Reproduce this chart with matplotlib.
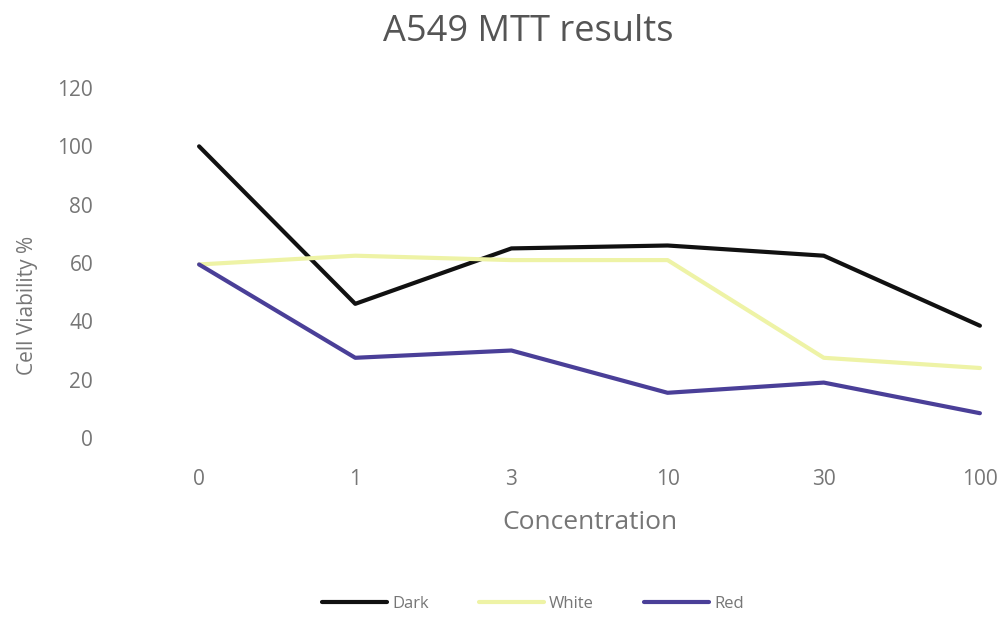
import numpy as np
import matplotlib
matplotlib.use("Agg")
import matplotlib.pyplot as plt

# --- data ---
concentrations = ["0", "1", "3", "10", "30", "100"]
dark = [100, 46, 65, 66, 62.5, 38.5]
white = [59.5, 62.5, 61, 61, 27.5, 24]
red = [59.5, 27.5, 30, 15.5, 19, 8.5]

series_names = ["Dark", "White", "Red"]
series_colors = ["#111111", "#eef3a6", "#4a3f98"]

TEXT = "#767676"
plt.rcParams['font.family'] = ['Open Sans', 'DejaVu Sans']

fig = plt.figure(figsize=(10.08, 6.23), dpi=100)
ax = fig.add_axes([121 / 1008, 1 - 438 / 623, (1058 - 121) / 1008, (438 - 88) / 623])

x = np.arange(len(concentrations))
for vals, name, col in zip([dark, white, red], series_names, series_colors):
    ax.plot(x, vals, color=col, lw=3, label=name, solid_capstyle="round")

ax.set_xlim(-0.5, len(concentrations) - 0.5)
ax.set_ylim(0, 120)
ax.set_yticks(range(0, 121, 20))
ax.set_xticks(x)
ax.set_xticklabels(concentrations)
for s in ax.spines.values():
    s.set_visible(False)
ax.tick_params(length=0, colors=TEXT, labelsize=15)
ax.tick_params(axis="y", pad=20)
ax.tick_params(axis="x", pad=22)

ax.set_xlabel("Concentration", fontsize=19, color=TEXT, labelpad=15)
fig.text(28 / 1008, 1 - 305 / 623, "Cell Viability %", rotation=90, fontsize=15,
         color=TEXT, ha="center", va="center")
fig.text(528 / 1008, 1 - 32 / 623, "A549 MTT results", fontsize=26, color="#555555",
         ha="center", va="center")

fig.legend(loc="center", bbox_to_anchor=(533 / 1008, 1 - 604 / 623), ncol=3,
           frameon=False, fontsize=12, labelcolor=TEXT, handlelength=3.9,
           handletextpad=0.3, columnspacing=3.0)

fig.savefig("out.png", dpi=100, facecolor="white")
